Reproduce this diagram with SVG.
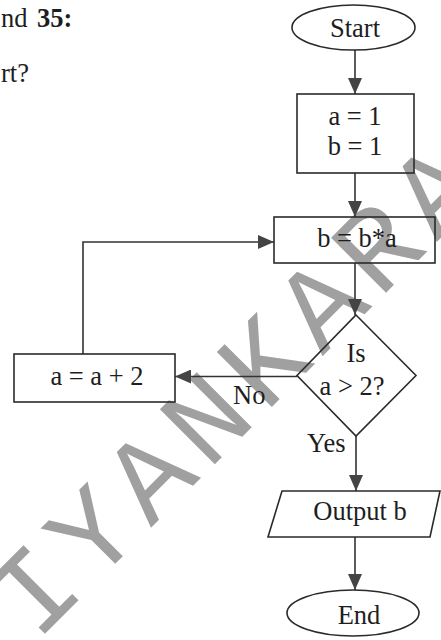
<svg xmlns="http://www.w3.org/2000/svg" width="441" height="640" viewBox="0 0 441 640">
<style>
.t{font-family:"Liberation Serif","Times New Roman",serif;font-size:26.5px;fill:#1e1e1e;}
.c{text-anchor:middle;}
.s{fill:none;stroke:#2a2a2a;stroke-width:1.6;}
.l{fill:none;stroke:#333;stroke-width:1.6;}
.wm{font-family:"Liberation Mono","Courier New",monospace;font-size:118px;fill:#a0a0a0;letter-spacing:10px;}
</style>
<defs>
<marker id="ah" markerUnits="userSpaceOnUse" markerWidth="17" markerHeight="14" refX="16" refY="7" orient="auto">
<path d="M0,0 L16,7 L0,14 z" fill="#444"/>
</marker>
</defs>
<rect width="441" height="640" fill="#fff"/>
<g id="watermark">
<text class="wm" transform="rotate(-45)" x="-428" y="480">IYANKARA</text>
</g>
<g id="question-text">
<text class="t" x="1" y="27">nd<tspan x="37" font-weight="bold">35:</tspan></text>
<text class="t" x="1" y="82">rt?</text>
</g>
<g id="connectors">
<path class="l" d="M355,50 V94" marker-end="url(#ah)"/>
<path class="l" d="M355,173 V217" marker-end="url(#ah)"/>
<path class="l" d="M355,263 V315" marker-end="url(#ah)"/>
<path class="l" d="M297,376.5 H175" marker-end="url(#ah)"/>
<path class="l" d="M83,354 V242 H274" marker-end="url(#ah)"/>
<path class="l" d="M356,436 V491" marker-end="url(#ah)"/>
<path class="l" d="M355,537 V590" marker-end="url(#ah)"/>
<text class="t" x="233" y="404">No</text>
<text class="t" x="307" y="452">Yes</text>
</g>
<g id="start">
<ellipse class="s" cx="353.5" cy="27.5" rx="61.5" ry="22.5"/>
<text class="t c" x="355" y="37">Start</text>
</g>
<g id="init">
<rect class="s" x="297" y="94" width="117" height="79"/>
<text class="t c" x="355" y="125">a = 1</text>
<text class="t c" x="355" y="155">b = 1</text>
</g>
<g id="calc">
<rect class="s" x="274" y="217" width="161" height="46"/>
<text class="t c" x="357" y="247">b = b*a</text>
</g>
<g id="decision">
<polygon class="s" points="356,315 416,375.5 356,436 297,375.5"/>
<text class="t c" x="356" y="362">Is</text>
<text class="t c" x="352" y="395">a &gt; 2?</text>
</g>
<g id="increment">
<rect class="s" x="14" y="354" width="161" height="48"/>
<text class="t c" x="97" y="385">a = a + 2</text>
</g>
<g id="output">
<polygon class="s" points="282,491 440,491 430,537 268,537"/>
<text class="t c" x="360" y="520">Output b</text>
</g>
<g id="end">
<ellipse class="s" cx="353" cy="613" rx="66" ry="23"/>
<text class="t c" x="359" y="624">End</text>
</g>
</svg>
